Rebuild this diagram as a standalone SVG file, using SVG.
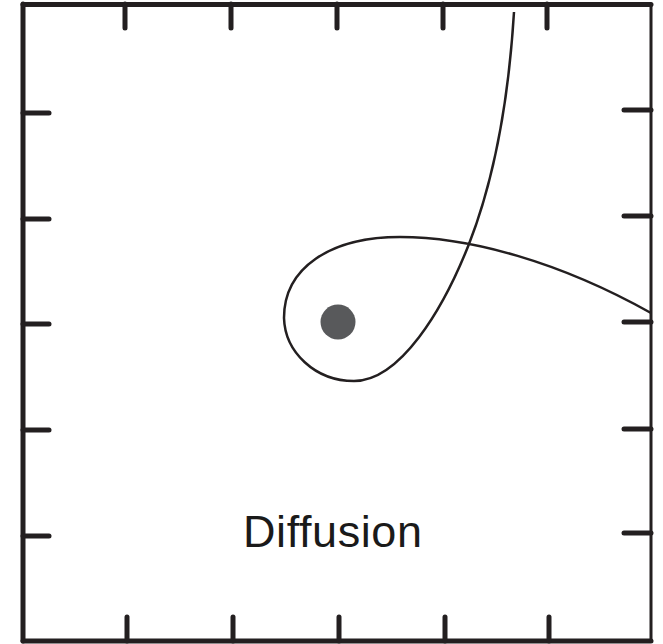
<svg xmlns="http://www.w3.org/2000/svg" width="663" height="644" viewBox="0 0 663 644">
<style>
.frame{fill:none;stroke:#231f20;stroke-linecap:round}
.tick{stroke:#231f20;stroke-width:5;stroke-linecap:round}
.curve{fill:none;stroke:#231f20;stroke-width:2.5}
.lbl{font-family:"Liberation Sans",Arial,sans-serif;font-size:45px;fill:#1a1a1a}
</style>
<rect width="663" height="644" fill="#fff"/>
<g id="frame">
<line class="frame" x1="23" y1="4.5" x2="651" y2="4.5" stroke-width="5"/>
<line class="frame" x1="23" y1="4" x2="23" y2="641" stroke-width="5"/>
<line class="frame" x1="23" y1="641" x2="651" y2="641" stroke-width="5"/>
<line class="frame" x1="651" y1="4" x2="651" y2="641" stroke-width="3"/>
</g>
<g id="ticks">
<line class="tick" x1="125" y1="4" x2="125" y2="28"/>
<line class="tick" x1="231" y1="4" x2="231" y2="28"/>
<line class="tick" x1="337" y1="4" x2="337" y2="28"/>
<line class="tick" x1="443" y1="4" x2="443" y2="28"/>
<line class="tick" x1="547" y1="4" x2="547" y2="28"/>
<line class="tick" x1="127" y1="641" x2="127" y2="617"/>
<line class="tick" x1="233" y1="641" x2="233" y2="617"/>
<line class="tick" x1="339" y1="641" x2="339" y2="617"/>
<line class="tick" x1="445" y1="641" x2="445" y2="617"/>
<line class="tick" x1="549" y1="641" x2="549" y2="617"/>
<line class="tick" x1="23" y1="113" x2="49" y2="113"/>
<line class="tick" x1="23" y1="219" x2="49" y2="219"/>
<line class="tick" x1="23" y1="324" x2="49" y2="324"/>
<line class="tick" x1="23" y1="430" x2="49" y2="430"/>
<line class="tick" x1="23" y1="536" x2="49" y2="536"/>
<line class="tick" x1="651" y1="110" x2="624" y2="110"/>
<line class="tick" x1="651" y1="216" x2="624" y2="216"/>
<line class="tick" x1="651" y1="322" x2="624" y2="322"/>
<line class="tick" x1="651" y1="429" x2="624" y2="429"/>
<line class="tick" x1="651" y1="533" x2="624" y2="533"/>
</g>
<g id="connectors">
<path class="curve" d="M514,12 C508,110 492,185 469,244 C443,310 400,381 354,381 C315,381 285,352 284,318 C284,268 330,237 400,237 C470,237 560,262 651,313"/>
</g>
<g id="particle">
<circle cx="338" cy="322" r="17.5" fill="#58595b"/>
</g>
<g id="label">
<text class="lbl" x="243" y="547" textLength="179" lengthAdjust="spacing">Diffusion</text>
</g>
</svg>
